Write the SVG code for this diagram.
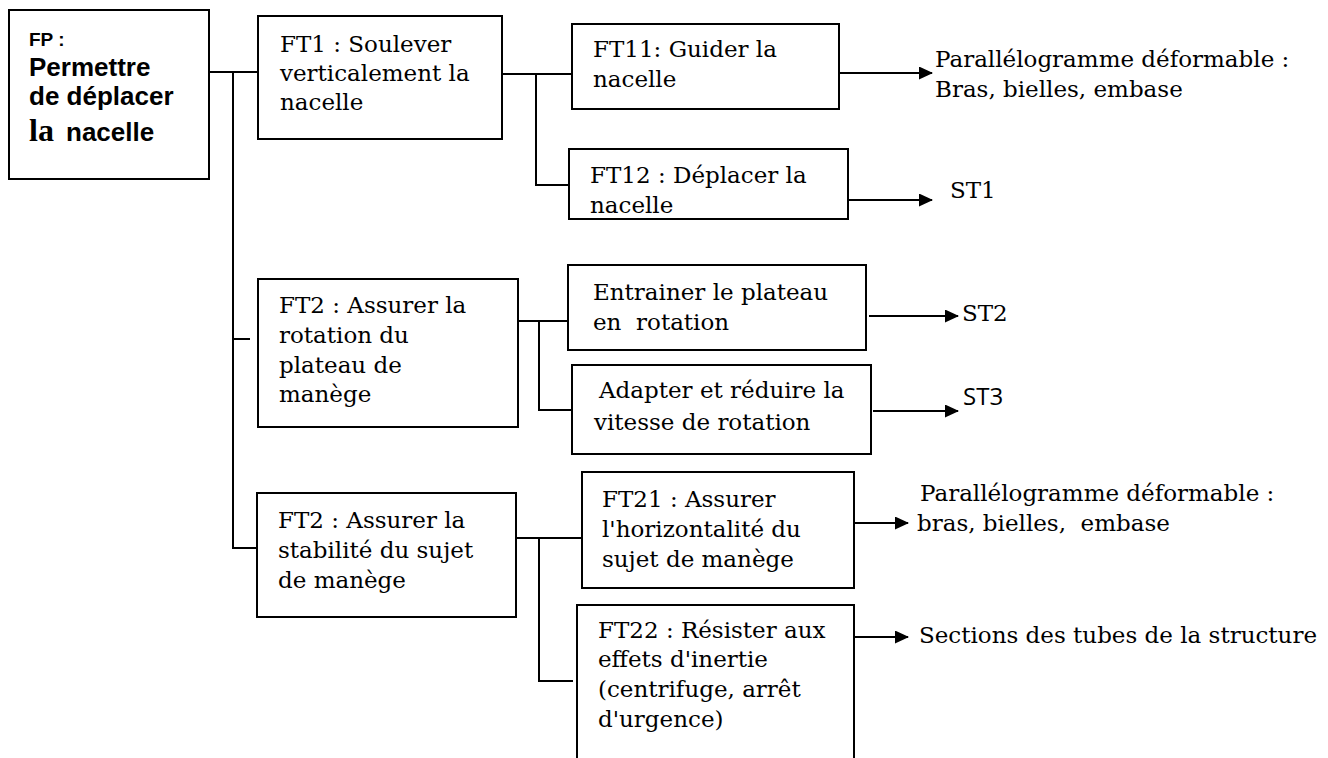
<svg xmlns="http://www.w3.org/2000/svg" width="1328" height="758" viewBox="0 0 1328 758">
<style>
.box{fill:#fff;stroke:#000;stroke-width:2}
.t{font-family:"DejaVu Serif","Liberation Serif",serif;font-size:23px;fill:#000;white-space:pre}
.s{font-family:"Open Sans","Liberation Sans",sans-serif;font-size:24px;fill:#000}
.b{font-family:"Liberation Sans",Arial,sans-serif;font-weight:bold;fill:#000}
.serifb{font-family:"Liberation Serif","Times New Roman",serif;font-weight:bold;fill:#000}
.ln{stroke:#000;stroke-width:2;fill:none}
.ar{stroke:#000;stroke-width:2;fill:none;marker-end:url(#ah)}
</style>
<defs>
<marker id="ah" markerWidth="14" markerHeight="13" refX="13" refY="6.5" orient="auto" markerUnits="userSpaceOnUse"><path d="M0,0 L14,6.5 L0,13 z" fill="#000"/></marker>
</defs>
<rect width="1328" height="758" fill="#fff"/>
<g id="connectors">
<path class="ln" d="M209,72 H258"/>
<path class="ln" d="M233,72 V548 H257"/>
<path class="ln" d="M233,339 H250"/>
<path class="ln" d="M502,74 H572"/>
<path class="ln" d="M536,74 V185 H569"/>
<path class="ln" d="M518,321 H568"/>
<path class="ln" d="M539,321 V410 H572"/>
<path class="ln" d="M516,538 H582"/>
<path class="ln" d="M539,538 V681 H573"/>
<path class="ar" d="M839,73 H932"/>
<path class="ar" d="M848,200 H932"/>
<path class="ar" d="M869,316 H958"/>
<path class="ar" d="M873,411 H958"/>
<path class="ar" d="M855,523 H908"/>
<path class="ar" d="M855,637 H908"/>
</g>
<g id="FP">
<rect class="box" x="9" y="10" width="200" height="169"/>
<text class="b" x="29" y="46" font-size="19">FP :</text>
<text class="b" x="29" y="76" font-size="26">Permettre</text>
<text class="b" x="29" y="105" font-size="26">de déplacer</text>
<text class="serifb" x="29" y="141" font-size="32">la</text>
<text class="b" x="66" y="141" font-size="26">nacelle</text>
</g>
<g id="FT1">
<rect class="box" x="258" y="16" width="244" height="123"/>
<text class="t" x="280" y="52">FT1 : Soulever</text>
<text class="t" x="280" y="81">verticalement la</text>
<text class="t" x="280" y="110">nacelle</text>
</g>
<g id="FT11">
<rect class="box" x="572" y="24" width="267" height="85"/>
<text class="t" x="593" y="57">FT11: Guider la</text>
<text class="t" x="593" y="87">nacelle</text>
</g>
<g id="FT12">
<rect class="box" x="569" y="149" width="279" height="70"/>
<text class="t" x="590" y="183">FT12 : Déplacer la</text>
<text class="t" x="590" y="213">nacelle</text>
</g>
<g id="FT2a">
<rect class="box" x="258" y="279" width="260" height="148"/>
<text class="t" x="279" y="313">FT2 : Assurer la</text>
<text class="t" x="279" y="343">rotation du</text>
<text class="t" x="279" y="373">plateau de</text>
<text class="t" x="279" y="402">manège</text>
</g>
<g id="Entrainer">
<rect class="box" x="568" y="265" width="298" height="85"/>
<text class="t" x="593" y="300">Entrainer le plateau</text>
<text class="t" x="593" y="330">en  rotation</text>
</g>
<g id="Adapter">
<rect class="box" x="572" y="365" width="299" height="89"/>
<text class="t" x="599" y="398">Adapter et réduire la</text>
<text class="t" x="594" y="430">vitesse de rotation</text>
</g>
<g id="FT2b">
<rect class="box" x="257" y="493" width="259" height="124"/>
<text class="t" x="278" y="528">FT2 : Assurer la</text>
<text class="t" x="278" y="558">stabilité du sujet</text>
<text class="t" x="278" y="588">de manège</text>
</g>
<g id="FT21">
<rect class="box" x="582" y="472" width="272" height="116"/>
<text class="t" x="602" y="507">FT21 : Assurer</text>
<text class="t" x="602" y="537">l'horizontalité du</text>
<text class="t" x="602" y="567">sujet de manège</text>
</g>
<g id="FT22">
<rect class="box" x="577" y="605" width="277" height="165"/>
<text class="t" x="598" y="638">FT22 : Résister aux</text>
<text class="t" x="598" y="667">effets d'inertie</text>
<text class="t" x="598" y="697">(centrifuge, arrêt</text>
<text class="t" x="598" y="727">d'urgence)</text>
</g>
<g id="R1">
<text class="t" x="935" y="67">Parallélogramme déformable :</text>
<text class="t" x="935" y="97">Bras, bielles, embase</text>
</g>
<g id="ST1"><text class="t" x="950" y="198">ST1</text></g>
<g id="ST2"><text class="t" x="962" y="321">ST2</text></g>
<g id="ST3"><text class="s" x="963" y="405">ST3</text></g>
<g id="R4">
<text class="t" x="920" y="501">Parallélogramme déformable :</text>
<text class="t" x="917" y="531">bras, bielles,  embase</text>
</g>
<g id="R5"><text class="t" x="919" y="643">Sections des tubes de la structure</text></g>
</svg>
